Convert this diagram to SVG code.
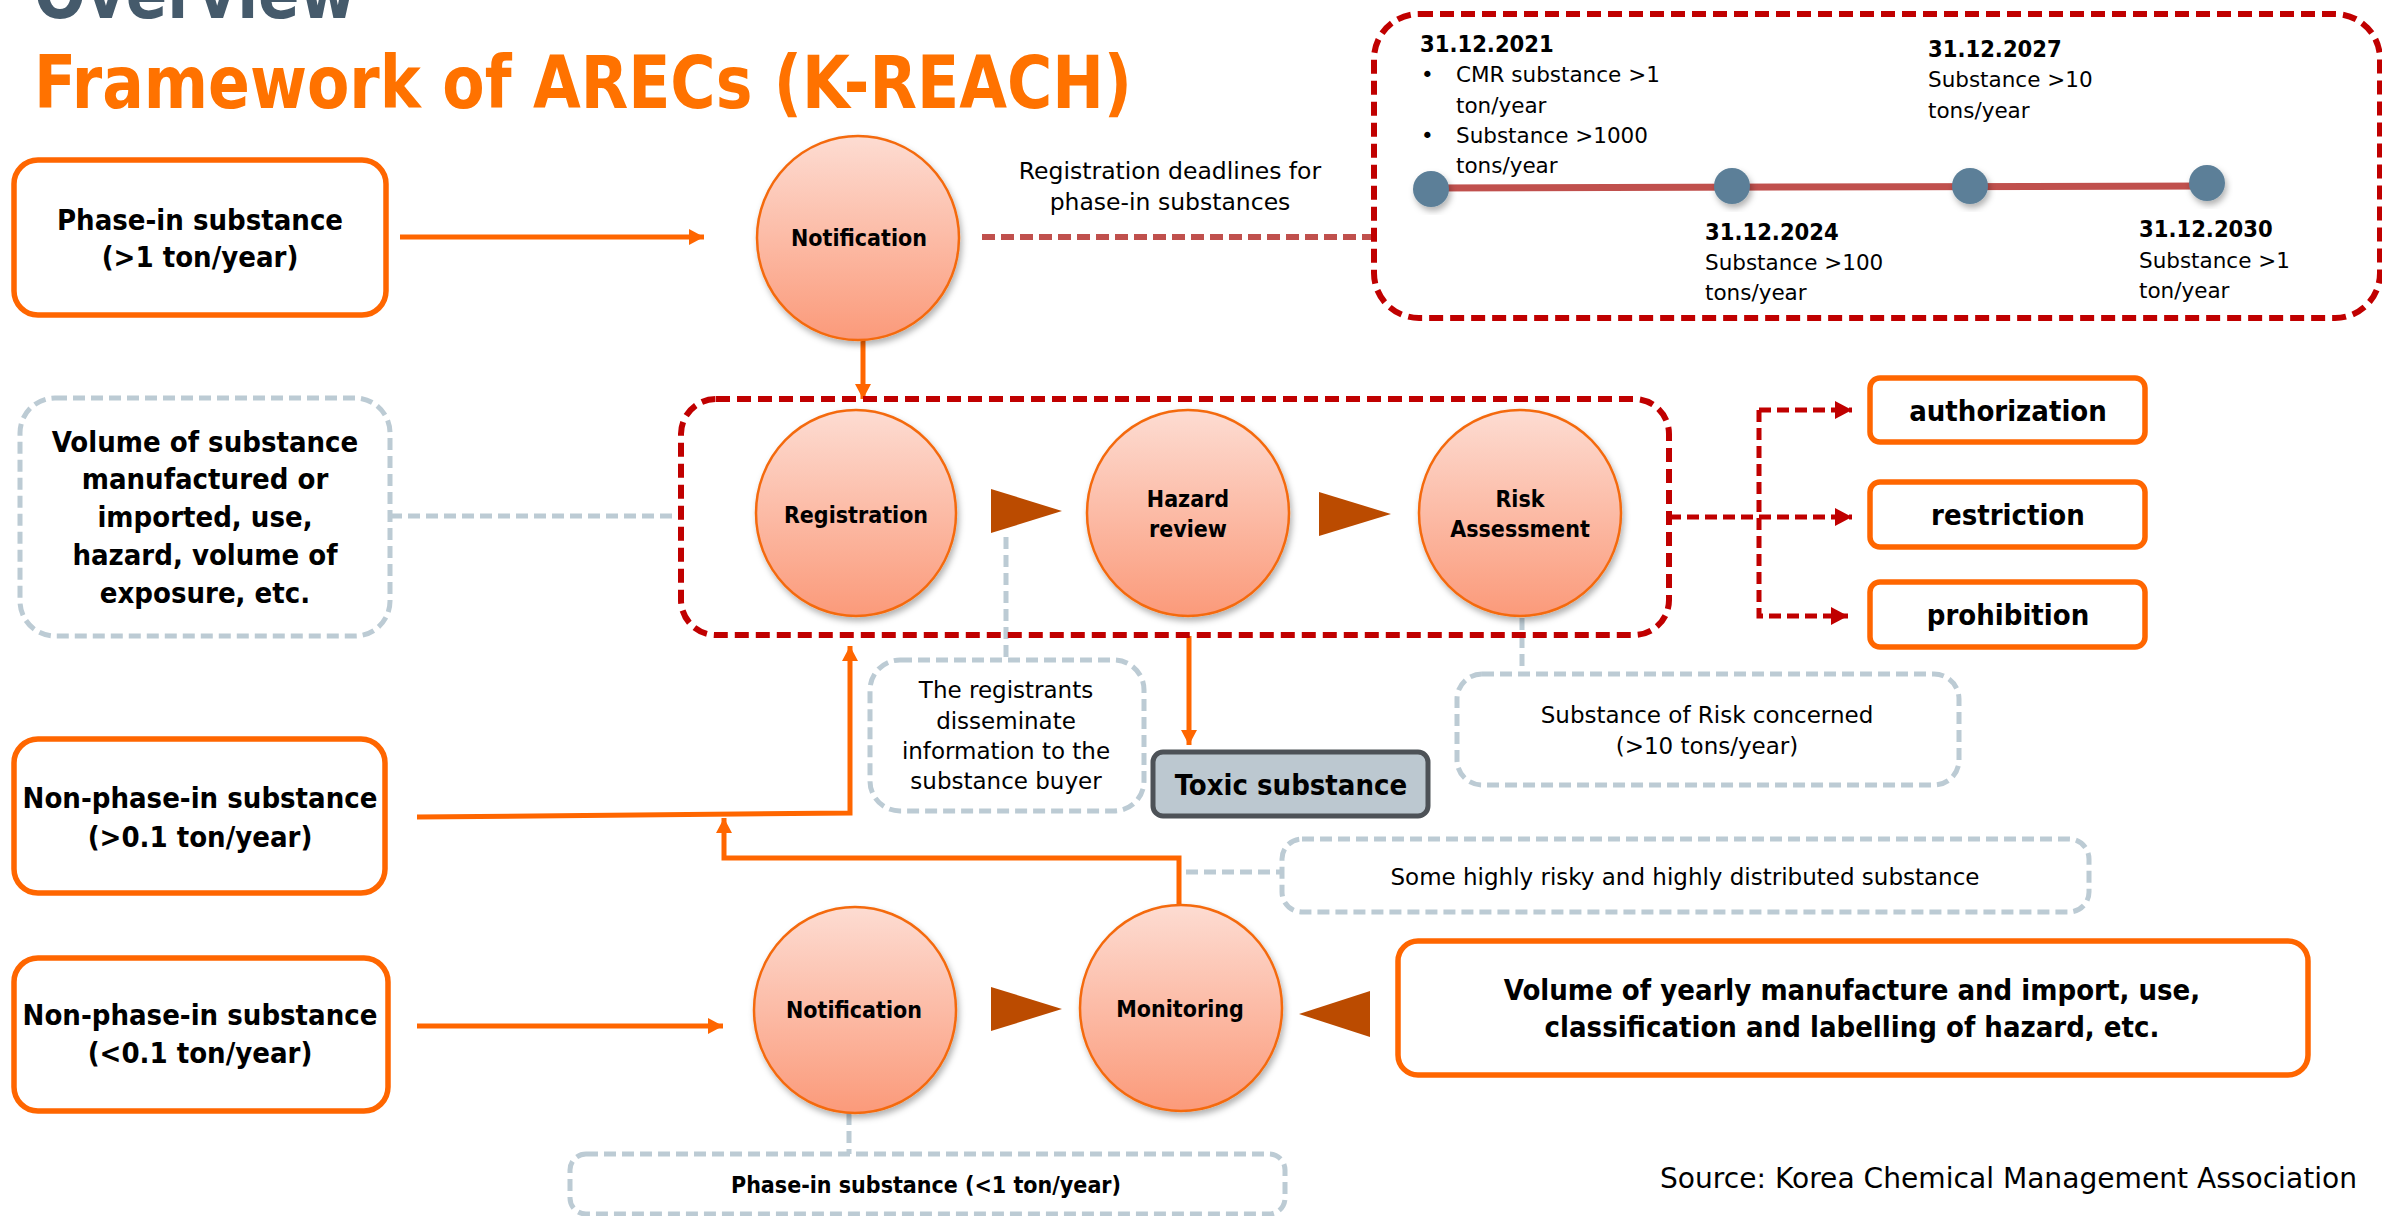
<svg xmlns="http://www.w3.org/2000/svg" width="2382" height="1216" viewBox="0 0 2382 1216">
<defs>
<linearGradient id="ball" x1="0" y1="0" x2="0" y2="1">
<stop offset="0" stop-color="#fddcd2"/>
<stop offset="1" stop-color="#fb9a7a"/>
</linearGradient>
<filter id="sh" x="-20%" y="-20%" width="140%" height="140%">
<feDropShadow dx="2" dy="4" stdDeviation="3" flood-color="#000" flood-opacity="0.3"/>
</filter>
<marker id="ao" markerUnits="userSpaceOnUse" markerWidth="16" markerHeight="16" refX="15" refY="8" orient="auto">
<path d="M0,0 L15,8 L0,16 z" fill="#ff6600"/>
</marker>
<marker id="ar" markerUnits="userSpaceOnUse" markerWidth="18" markerHeight="18" refX="17" refY="9" orient="auto">
<path d="M0,0 L17,9 L0,18 z" fill="#c00000"/>
</marker>
<style>
.ttl{font-family:"DejaVu Sans Condensed","DejaVu Sans",sans-serif;font-weight:bold;font-size:73px}
.b{font-family:"DejaVu Sans Condensed","DejaVu Sans",sans-serif;font-weight:bold;fill:#000}
.r{font-family:"DejaVu Sans",sans-serif;fill:#000}
.c{text-anchor:middle}
.ob{fill:#fff;stroke:#ff6600;stroke-width:5.5}
.gd{fill:#fff;stroke:#bccbd4;stroke-width:5;stroke-dasharray:12 6}
.gl{fill:none;stroke:#bccbd4;stroke-width:5;stroke-dasharray:12 6}
.ball{fill:url(#ball);stroke:#f46a10;stroke-width:2.5}
.ol{fill:none;stroke:#ff6600;stroke-width:5}
.rl{fill:none;stroke:#c00000;stroke-width:5;stroke-dasharray:12 6}
.tri{fill:#bb4b00}
.dot{fill:#5b7f98}
</style>
</defs>
<rect width="2382" height="1216" fill="#fff"/>

<g id="title">
<text class="ttl" x="34" y="18" fill="#455a6b" textLength="322" lengthAdjust="spacingAndGlyphs">Overview</text>
<text class="ttl" x="34" y="108" fill="#ff7200" textLength="1098" lengthAdjust="spacingAndGlyphs">Framework of ARECs (K-REACH)</text>
</g>

<g id="connectors">
<line class="ol" x1="400" y1="237" x2="704" y2="237" marker-end="url(#ao)"/>
<line class="ol" x1="863" y1="340" x2="863" y2="399" stroke-width="4" marker-end="url(#ao)"/>
<line x1="982" y1="237" x2="1372" y2="237" stroke="#c0504d" stroke-width="6" stroke-dasharray="13 6"/>
<line class="gl" x1="390" y1="516" x2="681" y2="516"/>
<line class="gl" x1="1006" y1="537" x2="1006" y2="660"/>
<line class="gl" x1="1522" y1="618" x2="1522" y2="674"/>
<line class="gl" x1="1186" y1="872" x2="1282" y2="872"/>
<line class="gl" x1="849" y1="1113" x2="849" y2="1154"/>
<path class="rl" d="M1669,517 L1852,517" marker-end="url(#ar)"/>
<path class="rl" d="M1759,410 L1852,410" marker-end="url(#ar)"/>
<path class="rl" d="M1759,410 L1759,616 L1848,616" marker-end="url(#ar)"/>
<polyline class="ol" points="417,817 850,813 850,646" marker-end="url(#ao)"/>
<polyline class="ol" points="1179,905 1179,858 724,858 724,818" marker-end="url(#ao)"/>
<line class="ol" x1="1189" y1="636" x2="1189" y2="745" stroke-width="4" marker-end="url(#ao)"/>
<line class="ol" x1="417" y1="1026" x2="723" y2="1026" marker-end="url(#ao)"/>
</g>

<g id="timeline">
<rect x="1374" y="14" width="1006" height="304" rx="45" fill="none" stroke="#c00000" stroke-width="6" stroke-dasharray="14 7"/>
<line x1="1431" y1="188" x2="2207" y2="186" stroke="#c0504d" stroke-width="7"/>
<circle class="dot" cx="1431" cy="189" r="18" filter="url(#sh)"/>
<circle class="dot" cx="1732" cy="186" r="18" filter="url(#sh)"/>
<circle class="dot" cx="1970" cy="186" r="18" filter="url(#sh)"/>
<circle class="dot" cx="2207" cy="183" r="18" filter="url(#sh)"/>
<text class="b" x="1420" y="52" font-size="23.5">31.12.2021</text>
<text class="r" x="1421" y="82" font-size="21.5">•</text>
<text class="r" x="1456" y="82" font-size="21.5">CMR substance &gt;1</text>
<text class="r" x="1456" y="113" font-size="21.5">ton/year</text>
<text class="r" x="1421" y="143" font-size="21.5">•</text>
<text class="r" x="1456" y="143" font-size="21.5">Substance &gt;1000</text>
<text class="r" x="1456" y="173" font-size="21.5">tons/year</text>
<text class="b" x="1928" y="57" font-size="23.5">31.12.2027</text>
<text class="r" x="1928" y="87" font-size="21.5">Substance &gt;10</text>
<text class="r" x="1928" y="118" font-size="21.5">tons/year</text>
<text class="b" x="1705" y="240" font-size="23.5">31.12.2024</text>
<text class="r" x="1705" y="270" font-size="21.5">Substance &gt;100</text>
<text class="r" x="1705" y="300" font-size="21.5">tons/year</text>
<text class="b" x="2139" y="237" font-size="23.5">31.12.2030</text>
<text class="r" x="2139" y="268" font-size="21.5">Substance &gt;1</text>
<text class="r" x="2139" y="298" font-size="21.5">ton/year</text>
</g>

<g id="deadline-label">
<text class="r c" x="1170" y="179" font-size="23.5">Registration deadlines for</text>
<text class="r c" x="1170" y="210" font-size="23.5">phase-in substances</text>
</g>

<g id="phase-in">
<rect class="ob" x="14" y="160" width="372" height="155" rx="24"/>
<text class="b c" x="200" y="230" font-size="29">Phase-in substance</text>
<text class="b c" x="200" y="267" font-size="29">(&gt;1 ton/year)</text>
</g>

<g id="notification-top">
<ellipse class="ball" cx="858" cy="238" rx="101" ry="102" filter="url(#sh)"/>
<text class="b c" x="859" y="246" font-size="23">Notification</text>
</g>

<g id="volume">
<rect class="gd" x="20" y="398" width="370" height="238" rx="35"/>
<text class="b c" x="205" y="452" font-size="29">Volume of substance</text>
<text class="b c" x="205" y="489" font-size="29">manufactured or</text>
<text class="b c" x="205" y="527" font-size="29">imported, use,</text>
<text class="b c" x="205" y="565" font-size="29">hazard, volume of</text>
<text class="b c" x="205" y="603" font-size="29">exposure, etc.</text>
</g>

<g id="registration-group">
<rect x="681" y="399" width="988" height="236" rx="35" fill="none" stroke="#c00000" stroke-width="6" stroke-dasharray="14 7"/>
</g>

<g id="registration">
<ellipse class="ball" cx="856" cy="513" rx="100" ry="103" filter="url(#sh)"/>
<text class="b c" x="856" y="523" font-size="23">Registration</text>
</g>
<polygon id="tri1" class="tri" points="991,489 1062,511 991,533"/>
<g id="hazard">
<ellipse class="ball" cx="1188" cy="513" rx="101" ry="103" filter="url(#sh)"/>
<text class="b c" x="1188" y="507" font-size="23">Hazard</text>
<text class="b c" x="1188" y="537" font-size="23">review</text>
</g>
<polygon id="tri2" class="tri" points="1319,492 1391,514 1319,536"/>
<g id="risk">
<ellipse class="ball" cx="1520" cy="513" rx="101" ry="103" filter="url(#sh)"/>
<text class="b c" x="1520" y="507" font-size="23">Risk</text>
<text class="b c" x="1520" y="537" font-size="23">Assessment</text>
</g>

<g id="authorization">
<rect class="ob" x="1870" y="378" width="275" height="64" rx="10"/>
<text class="b c" x="2008" y="421" font-size="29">authorization</text>
</g>
<g id="restriction">
<rect class="ob" x="1870" y="482" width="275" height="65" rx="10"/>
<text class="b c" x="2008" y="525" font-size="29">restriction</text>
</g>
<g id="prohibition">
<rect class="ob" x="1870" y="582" width="275" height="65" rx="10"/>
<text class="b c" x="2008" y="625" font-size="29">prohibition</text>
</g>

<g id="disseminate">
<rect class="gd" x="870" y="660" width="274" height="151" rx="30"/>
<text class="r c" x="1006" y="698" font-size="23">The registrants</text>
<text class="r c" x="1006" y="729" font-size="23">disseminate</text>
<text class="r c" x="1006" y="759" font-size="23">information to the</text>
<text class="r c" x="1006" y="789" font-size="23">substance buyer</text>
</g>

<g id="toxic">
<rect x="1153" y="752" width="275" height="64" rx="10" fill="#bcc8d0" stroke="#4d5257" stroke-width="5"/>
<text class="b c" x="1291" y="795" font-size="29">Toxic substance</text>
</g>

<g id="risk-concerned">
<rect class="gd" x="1457" y="674" width="502" height="111" rx="25"/>
<text class="r c" x="1707" y="723" font-size="23">Substance of Risk concerned</text>
<text class="r c" x="1707" y="754" font-size="23">(&gt;10 tons/year)</text>
</g>

<g id="non-phase-in-high">
<rect class="ob" x="14" y="739" width="371" height="154" rx="24"/>
<text class="b c" x="200" y="808" font-size="29">Non-phase-in substance</text>
<text class="b c" x="200" y="847" font-size="29">(&gt;0.1 ton/year)</text>
</g>

<g id="highly-risky">
<rect class="gd" x="1282" y="839" width="807" height="73" rx="20"/>
<text class="r c" x="1685" y="885" font-size="23">Some highly risky and highly distributed substance</text>
</g>

<g id="non-phase-in-low">
<rect class="ob" x="14" y="958" width="374" height="153" rx="24"/>
<text class="b c" x="200" y="1025" font-size="29">Non-phase-in substance</text>
<text class="b c" x="200" y="1063" font-size="29">(&lt;0.1 ton/year)</text>
</g>

<g id="notification-bottom">
<ellipse class="ball" cx="855" cy="1010" rx="101" ry="103" filter="url(#sh)"/>
<text class="b c" x="854" y="1018" font-size="23">Notification</text>
</g>
<polygon id="tri3" class="tri" points="991,987 1062,1009 991,1031"/>
<g id="monitoring">
<ellipse class="ball" cx="1181" cy="1008" rx="101" ry="103" filter="url(#sh)"/>
<text class="b c" x="1180" y="1017" font-size="23">Monitoring</text>
</g>
<polygon id="tri4" class="tri" points="1370,991 1299,1014 1370,1037"/>

<g id="yearly-volume">
<rect class="ob" x="1398" y="941" width="910" height="134" rx="20"/>
<text class="b c" x="1852" y="1000" font-size="29">Volume of yearly manufacture and import, use,</text>
<text class="b c" x="1852" y="1037" font-size="29">classification and labelling of hazard, etc.</text>
</g>

<g id="phase-in-low">
<rect class="gd" x="570" y="1154" width="715" height="60" rx="16"/>
<text class="b c" x="926" y="1193" font-size="23">Phase-in substance (&lt;1 ton/year)</text>
</g>

<text id="source" class="r" x="2357" y="1188" font-size="28" text-anchor="end" textLength="697" lengthAdjust="spacingAndGlyphs">Source: Korea Chemical Management Association</text>
</svg>
